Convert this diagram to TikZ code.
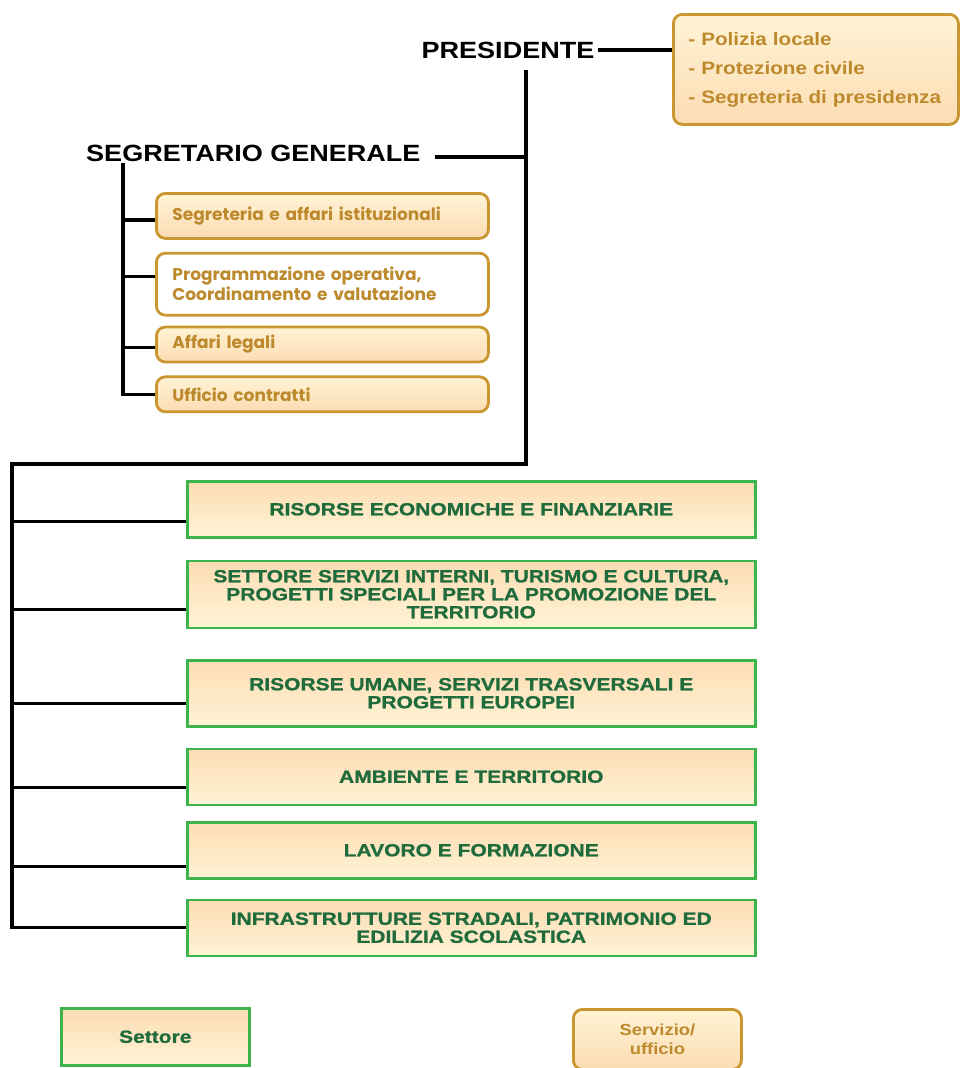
\documentclass[tikz,border=0pt]{standalone}
\usepackage{fontspec}
\setmainfont{Liberation Sans}[FakeStretch=1.15]
\newfontfamily\gothic{Poppins}
\newfontfamily\settorefont{Liberation Sans}[FakeStretch=1.2, FakeBold=1]
\usetikzlibrary{positioning, calc}
\definecolor{oroline}{HTML}{C9962F}
\definecolor{orotext}{HTML}{BC8A2C}
\definecolor{verdeline}{HTML}{3CB44B}
\definecolor{verdetext}{HTML}{1F6B3C}
\definecolor{pesca}{HTML}{FCDCB4}
\definecolor{crema}{HTML}{FFF3D4}
\tikzset{
  capo/.style = {font=\fontsize{23.5}{26}\selectfont\bfseries, text=black, inner sep=0pt},
  servizio/.style = {rectangle, rounded corners=9pt, draw=oroline, line width=2.8pt, top color=crema, bottom color=pesca, text=orotext, font=\gothic\bfseries\fontsize{17}{20}\selectfont, align=left, text width=300pt, inner xsep=16pt, minimum width=332pt},
  settore/.style = {rectangle, draw=verdeline, line width=2.5pt, top color=pesca, bottom color=crema, text=verdetext, font=\settorefont\bfseries\fontsize{17.5}{18}\selectfont, align=center, minimum width=568pt, minimum height=56pt},
  ramo/.style = {draw=black, line width=3.2pt}
}

\begin{document}
\begin{tikzpicture}[x=1pt, y=-1pt]
  \useasboundingbox (0,0) rectangle (959,1068);

  % Presidente e staff
  \node (presidente) [capo] at (508,50) {PRESIDENTE};
  \node (staffpres) [servizio, text width=255pt, minimum width=285pt, minimum height=110pt, inner xsep=15pt,
    font=\fontsize{18}{29}\selectfont\bfseries, anchor=north west] at (672,13)
    {- Polizia locale\\- Protezione civile\\- Segreteria di presidenza\\[-2pt]};

  % Segretario generale
  \node (segretario) [capo, anchor=west] at (86,153) {SEGRETARIO GENERALE};
  \node (segr) [servizio, minimum height=45pt, anchor=north west] at (155,192) {Segreteria e affari istituzionali};
  \node (progr) [servizio, fill=white, top color=white, bottom color=white, minimum height=62pt, below=12pt of segr]
    {Programmazione operativa,\\Coordinamento e valutazione};
  \node (legali) [servizio, minimum height=35pt, below=9pt of progr] {Affari legali};
  \node (contratti) [servizio, minimum height=35pt, below=12pt of legali] {Ufficio contratti};

  % Settori
  \node (risorse) [settore, anchor=north west] at (186,480) {RISORSE ECONOMICHE E FINANZIARIE};
  \node (servizi) [settore, minimum height=67pt, below=21pt of risorse]
    {SETTORE SERVIZI INTERNI, TURISMO E CULTURA,\\PROGETTI SPECIALI PER LA PROMOZIONE DEL\\TERRITORIO};
  \node (umane) [settore, minimum height=66pt, below=30pt of servizi]
    {RISORSE UMANE, SERVIZI TRASVERSALI E\\PROGETTI EUROPEI};
  \node (ambiente) [settore, below=20pt of umane] {AMBIENTE E TERRITORIO};
  \node (lavoro) [settore, below=15pt of ambiente] {LAVORO E FORMAZIONE};
  \node (infra) [settore, below=19pt of lavoro] {INFRASTRUTTURE STRADALI, PATRIMONIO ED\\EDILIZIA SCOLASTICA};

  % Legenda
  \node (legsettore) [settore, minimum width=188pt, minimum height=57pt, anchor=north west] at (60,1007) {Settore};
  \node (legservizio) [servizio, text width=, minimum width=168pt, minimum height=60pt, align=center,
    font=\fontsize{16}{19}\selectfont\bfseries, anchor=north west] at (572,1008) {Servizio/\\ufficio};

  % Connessioni
  \coordinate (pgiu) at (526,70);
  \coordinate (tronco) at (12,464);
  \coordinate (sggiu) at (123,163);
  \draw[ramo] ([xshift=3pt]presidente.east) -- (presidente.east -| staffpres.west);
  \draw[ramo] (pgiu) |- (tronco) |- (infra.west);
  \draw[ramo] ([xshift=14pt,yshift=-4pt]segretario.east) -- ([yshift=-4pt]segretario.east -| pgiu);
  \draw[ramo] (sggiu) |- (contratti.west);
  \foreach \n/\d in {segr/-4, progr/8, legali/-3}
    \draw[ramo] ([yshift=\d pt]\n.west) -- ([yshift=\d pt]\n.west -| sggiu);
  \foreach \n/\d in {risorse/12, servizi/15, umane/10, ambiente/11, lavoro/16}
    \draw[ramo] ([yshift=-\d pt]\n.west) -- ([yshift=-\d pt]\n.west -| tronco);
\end{tikzpicture}
\end{document}
